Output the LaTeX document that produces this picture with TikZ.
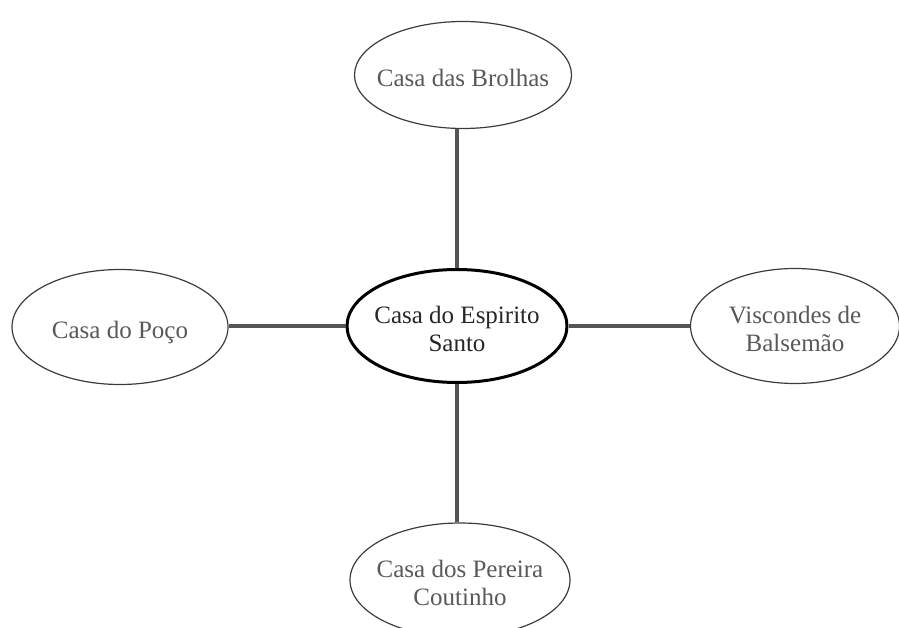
\documentclass[tikz,border=0pt]{standalone}
\usepackage{fontspec}
\setmainfont{Liberation Serif}
\usetikzlibrary{shapes.geometric}
\definecolor{txtgray}{HTML}{595959}
\definecolor{edgegray}{HTML}{3C3C3C}
\definecolor{linkgray}{HTML}{555555}
\newcommand\ctrtext[1]{\hbox to 0pt{\hss\raisebox{-6pt}[\height][\depth]{\begin{tabular}{@{}c@{}}#1\end{tabular}}\hss}}
\tikzset{
  outer/.style={ellipse, draw=edgegray, line width=1.2pt, inner sep=0pt, text=txtgray,
    font=\fontsize{25}{28}\selectfont},
  hub/.style={ellipse, draw=black, line width=3pt, inner sep=0pt, text=black!85,
    font=\fontsize{25}{28}\selectfont},
  link/.style={draw=linkgray, line width=3.5pt}
}
\begin{document}
\begin{tikzpicture}[x=1pt,y=-1pt]
\useasboundingbox (0,0) rectangle (899,628);
\node[hub, minimum width=220pt, minimum height=113pt] (c) at (457,326) {\ctrtext{Casa do Espirito\\Santo}};
\node[outer, minimum width=217pt, minimum height=107pt] (t) at (463,75) {\ctrtext{Casa das Brolhas}};
\node[outer, minimum width=216pt, minimum height=115pt] (l) at (120,327) {\ctrtext{Casa do Poço}};
\node[outer, minimum width=209pt, minimum height=115pt] (r) at (795,326) {\ctrtext{Viscondes de\\Balsemão}};
\node[outer, minimum width=220pt, minimum height=114pt] (b) at (460,580) {\ctrtext{Casa dos Pereira\\Coutinho}};
\draw[link] (c.north) -- (c.north |- t.south);
\draw[link] (c.south) -- (c.south |- b.north);
\draw[link] (c.west) -- (c.west -| l.east);
\draw[link] (c.east) -- (c.east -| r.west);
\end{tikzpicture}
\end{document}
